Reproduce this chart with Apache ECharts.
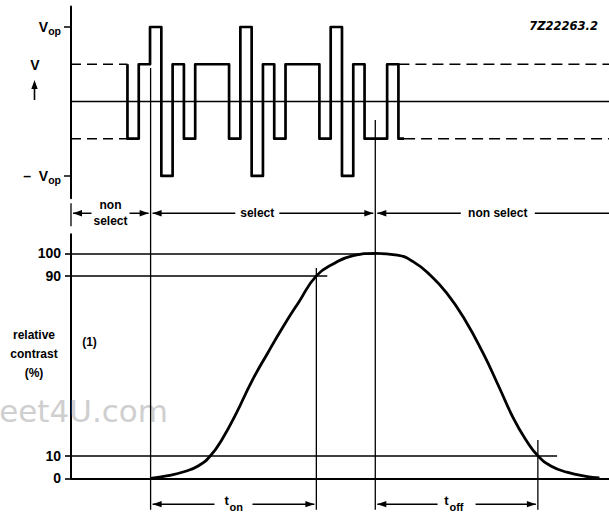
<!DOCTYPE html>
<html><head><meta charset="utf-8">
<script src="https://cdn.jsdelivr.net/npm/echarts@6/dist/echarts.min.js"></script>
<style>html,body{margin:0;padding:0;background:#fff}#c{width:609px;height:513px}</style>
</head><body><div id="c"></div>
<script>
// ---------------- data ----------------
// time axis in drive-pulse steps
const tMin = -5, tMax = 42.65;
// drive waveform: edge times and level after each edge (levels in units of Vop/2)
const waveEdgeT = [0, 1, 2, 3, 4, 5, 6, 9, 10, 11, 12, 13, 14, 17, 18, 19, 20, 21, 23, 24];
const waveLevel = [-1, 1, 2, -2, 1, -1, 1, -1, 2, -2, 1, -1, 1, -1, 2, -2, 1, -1, 1, -1];
const waveStartLevel = 1;
const waveEndT = 24.5;
// dashed non-select levels
const dashLevels = [1, -1];
const dashLeftT = [-5, 0];
const dashRightStartT = [24, 24.5];
// relative contrast curve (%)
const curveT = [2.05, 3.6, 5.0, 6.3, 7.35, 8.4, 9.6, 11.0, 12.4, 13.8, 15.2, 16.73, 18.3, 20.0, 21.95, 23.9, 25.3, 26.8, 28.3, 29.9, 31.5, 32.9, 34.2, 35.3, 36.35, 37.5, 39.0, 40.6, 41.8];
const curveV = [0, 1.2, 2.9, 5.6, 10, 17.5, 28.5, 43, 55.5, 67.5, 78.5, 90, 95.5, 99, 100, 99.2, 96.3, 90.4, 82.2, 70.4, 55.6, 40.7, 26.5, 17, 10, 5.5, 2.6, 0.9, 0.2];
// reference levels and where each reference line ends
const refLevels = [100, 90, 10];
const refEndT = [21.95, 17.7, 38.05];
// tick labels
const contrastTicks = [0, 10, 90, 100];
const voltTicks = [2, -2];
const voltTickText = {'2': 'V', '-2': '\u2013  V'};
// vertical markers: time, top end (grid, value); bottom end value in contrast units
const markerT = [2.05, 16.73, 21.95, 36.35];
const markerTopGrid = [0, 1, 0, 1];
const markerTopV = [0.9, 93.5, -0.5, 17];
const markerBottomV = -14;
// phase brackets
const phaseLabel = ['non\nselect', 'select', 'non select'];
const phaseFrom = [-5, 2.05, 21.95];
const phaseTo = [2.05, 21.95, 42.65];
const phaseLabelT = [-1.5, 11.5, 32.8];
const phaseRowV = 117.8;
// response-time brackets
const respLabel = ['on', 'off'];
const respFrom = [2.05, 21.95];
const respTo = [16.73, 36.35];
const respRowV = -11.5;

// ---------------- chart ----------------
const FONT = '"Liberation Sans", Arial, Helvetica, sans-serif';
const chart = echarts.init(document.getElementById('c'), null, {renderer: 'svg', width: 609, height: 513});

function waveData() {
  const pts = [];
  let prev = waveStartLevel;
  for (let i = 0; i < waveEdgeT.length; i++) {
    pts.push([waveEdgeT[i], prev]);
    pts.push([waveEdgeT[i], waveLevel[i]]);
    prev = waveLevel[i];
  }
  pts.push([waveEndT, prev]);
  return pts;
}

const dashSeries = [];
dashLevels.forEach((lv, i) => {
  dashSeries.push({type: 'line', xAxisIndex: 0, yAxisIndex: 0, data: [[dashLeftT[0], lv], [dashLeftT[1], lv]],
    showSymbol: false, silent: true, lineStyle: {color: '#000', width: 1.6, type: [10, 6]}});
  dashSeries.push({type: 'line', xAxisIndex: 0, yAxisIndex: 0, data: [[dashRightStartT[i], lv], [tMax, lv]],
    showSymbol: false, silent: true, lineStyle: {color: '#000', width: 1.6, type: [11, 6]}});
});

const hiddenX = (g, w) => ({gridIndex: g, type: 'value', min: tMin, max: tMax,
  axisLine: {show: true, onZero: true, lineStyle: {color: '#000', width: w}},
  axisTick: {show: false}, axisLabel: {show: false}, splitLine: {show: false}});

const option = {
  animation: false,
  backgroundColor: '#fff',
  textStyle: {fontFamily: FONT},
  grid: [
    {left: 71, width: 538, top: 6.5, height: 191.8, outerBoundsMode: 'none'},
    {left: 71, width: 538, top: 234.2, height: 244.1, outerBoundsMode: 'none'}
  ],
  xAxis: [hiddenX(0, 1.3), hiddenX(1, 2)],
  yAxis: [
    {gridIndex: 0, type: 'value', min: -2.6, max: 2.55, splitLine: {show: false},
      axisLine: {show: true, onZero: false, lineStyle: {color: '#000', width: 2}},
      axisTick: {show: true, customValues: voltTicks, length: 7, lineStyle: {color: '#000', width: 1.5}},
      axisLabel: {show: true, customValues: voltTicks, margin: 10,
        formatter: v => '{a|' + voltTickText[String(v)] + '}{b|op}',
        rich: {
          a: {fontSize: 14, fontWeight: 'bold', fontFamily: FONT, color: '#000'},
          b: {fontSize: 10.5, fontWeight: 'bold', fontFamily: FONT, color: '#000', padding: [9, 0, 0, 0]}
        }}},
    {gridIndex: 1, type: 'value', min: 0, max: 108.5, splitLine: {show: false},
      axisLine: {show: true, onZero: false, lineStyle: {color: '#000', width: 2}},
      axisTick: {show: true, customValues: contrastTicks, length: 6, lineStyle: {color: '#000', width: 1.6}},
      axisLabel: {show: true, customValues: contrastTicks, margin: 10, fontSize: 14, fontWeight: 'bold', color: '#000', fontFamily: FONT}}
  ],
  series: [
    {type: 'line', xAxisIndex: 0, yAxisIndex: 0, data: waveData(), showSymbol: false, silent: true,
      lineStyle: {color: '#000', width: 2.7, join: 'round'}},
    ...dashSeries,
    {type: 'line', xAxisIndex: 1, yAxisIndex: 1, data: curveT.map((t, i) => [t, curveV[i]]),
      showSymbol: false, silent: true, smooth: 0.5,
      lineStyle: {color: '#000', width: 2.8},
      markLine: {silent: true, symbol: ['none', 'none'], label: {show: false}, animation: false,
        lineStyle: {color: '#000', width: 1.6, type: 'solid'},
        emphasis: {disabled: true},
        data: refLevels.map((v, i) => [{coord: [tMin, v]}, {coord: [refEndT[i], v]}])}}
  ]
};
chart.setOption(option);

// ---------------- annotations (through the axes' scales) ----------------
const P = (g, t, v) => chart.convertToPixel({gridIndex: g}, [t, v]);
const G = [];
const seg = (x1, y1, x2, y2, w) => G.push({type: 'line', silent: true, z: 10,
  shape: {x1, y1, x2, y2}, style: {stroke: '#000', lineWidth: w || 1.3}});
const head = (x, y, dir) => G.push({type: 'polygon', silent: true, z: 10,
  shape: {points: [[x, y], [x - dir * 9, y - 3.2], [x - dir * 9, y + 3.2]]}, style: {fill: '#000'}});
const txt = (x, y, s, st) => G.push({type: 'text', silent: true, z: 10,
  style: Object.assign({x, y, text: s, align: 'center', verticalAlign: 'middle', fill: '#000',
    fontFamily: FONT, fontSize: 12, fontWeight: 'bold'}, st || {})});

// watermark
G.push({type: 'text', silent: true, z: 1, style: {x: 168, y: 411, text: 'eet4U.com', align: 'right', verticalAlign: 'middle',
  fill: '#cfcfcf', fontFamily: '"DejaVu Sans", sans-serif', fontSize: 31}});

// vertical markers
markerT.forEach((t, i) => {
  const top = P(markerTopGrid[i], t, markerTopV[i]);
  const bot = P(1, t, markerBottomV);
  seg(top[0], top[1], bot[0], bot[1], 1.3);
});
// short separator left of phase row
{
  const a = P(1, tMin, 122.3), b = P(1, tMin, 112);
  seg(a[0], a[1], b[0], b[1], 1.3);
}
// bracket helper
function bracket(g, t1, t2, v, tc, gap, leftHead, rightHead) {
  const [x1, y] = P(g, t1, v);
  const [x2] = P(g, t2, v);
  const [xc] = P(g, tc, v);
  const a = x1 + 2, b = x2 - (rightHead ? 2 : 0);
  seg(a, y, xc - gap, y, 1.5);
  seg(xc + gap, y, b, y, 1.5);
  if (leftHead) head(a, y, -1);
  if (rightHead) head(b, y, 1);
  return [xc, y];
}
const phaseGap = [19, 22, 37];
phaseLabel.forEach((s, i) => {
  const [xc, y] = bracket(1, phaseFrom[i], phaseTo[i], phaseRowV, phaseLabelT[i], phaseGap[i], true, i < 2);
  txt(xc, y, s, {lineHeight: 16, fontSize: 12});
});
respLabel.forEach((s, i) => {
  const tc = (respFrom[i] + respTo[i]) / 2;
  const [xc, y] = bracket(1, respFrom[i], respTo[i], respRowV, tc, 19, true, true);
  const subW = s.length * 6.4;
  txt(xc - subW / 2 - 0.5, y - 4, 't', {fontSize: 13, align: 'center'});
  txt(xc - subW / 2 + 2.5, y + 2.5, s, {fontSize: 11, align: 'left'});
});

// axis annotations
txt(35, 65, 'V', {fontSize: 14});
seg(34.5, 100, 34.5, 86, 1.6);
G.push({type: 'polygon', silent: true, z: 10, shape: {points: [[34.5, 80], [31.3, 89], [37.7, 89]]}, style: {fill: '#000'}});
txt(34, 354, 'relative\ncontrast\n(%)', {lineHeight: 19, fontSize: 12});
txt(89.5, 342, '(1)', {fontSize: 12});
txt(598, 26, '7Z22263.2', {align: 'right', fontSize: 11.5, fontStyle: 'italic', fontFamily: '"DejaVu Sans", sans-serif'});

chart.setOption({graphic: {elements: G}});
</script>
</body></html>
